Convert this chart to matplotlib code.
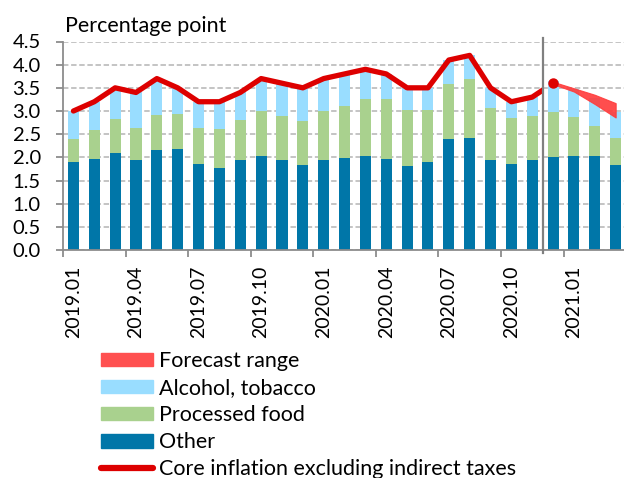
import matplotlib
matplotlib.use("Agg")
import matplotlib.pyplot as plt
from matplotlib.patches import Patch
from matplotlib.lines import Line2D
import numpy as np

plt.rcParams["font.family"] = ["Lato", "DejaVu Sans"]

# monthly categories 2019.01 - 2021.03
months = ["2019.01", "2019.02", "2019.03", "2019.04", "2019.05", "2019.06",
          "2019.07", "2019.08", "2019.09", "2019.10", "2019.11", "2019.12",
          "2020.01", "2020.02", "2020.03", "2020.04", "2020.05", "2020.06",
          "2020.07", "2020.08", "2020.09", "2020.10", "2020.11", "2020.12",
          "2021.01", "2021.02", "2021.03"]
tick_labels = ["2019.01", "2019.04", "2019.07", "2019.10", "2020.01",
               "2020.04", "2020.07", "2020.10", "2021.01"]

other = [1.89, 1.96, 2.10, 1.95, 2.15, 2.19, 1.86, 1.77, 1.94, 2.02, 1.94, 1.84,
         1.95, 1.98, 2.02, 1.97, 1.82, 1.90, 2.40, 2.42, 1.95, 1.86, 1.95, 2.00,
         2.03, 2.03, 1.84]
processed_food = [0.51, 0.63, 0.72, 0.69, 0.77, 0.75, 0.78, 0.84, 0.87, 0.98, 0.96, 0.94,
                  1.05, 1.13, 1.24, 1.29, 1.21, 1.13, 1.19, 1.27, 1.12, 0.99, 0.95, 0.98,
                  0.85, 0.65, 0.58]
alcohol_tobacco = [0.60, 0.61, 0.68, 0.76, 0.78, 0.56, 0.56, 0.59, 0.59, 0.70, 0.70, 0.72,
                   0.70, 0.69, 0.64, 0.54, 0.47, 0.47, 0.51, 0.51, 0.43, 0.35, 0.40, 0.66,
                   0.60, 0.59, 0.56]
# core inflation excluding indirect taxes (actual up to 2020.12)
core = [3.0, 3.2, 3.5, 3.4, 3.7, 3.5, 3.2, 3.2, 3.4, 3.7, 3.6, 3.5,
        3.7, 3.8, 3.9, 3.8, 3.5, 3.5, 4.1, 4.2, 3.5, 3.2, 3.3, 3.6]
# forecast range 2020.12 - 2021.03
fc_months = ["2020.12", "2021.01", "2021.02", "2021.03"]
fc_upper = [3.63, 3.49, 3.35, 3.17]
fc_lower = [3.58, 3.42, 3.15, 2.86]

c_other = "#0076A8"
c_food = "#A9D18E"
c_alc = "#99DDFF"
c_line = "#DD0000"
c_fc = "#FF3B3B"
c_axis = "#8C8C8C"

x = np.arange(len(months))
pos = {m: i for i, m in enumerate(months)}
other = np.array(other)
processed_food = np.array(processed_food)
alcohol_tobacco = np.array(alcohol_tobacco)

fig = plt.figure(figsize=(6.24, 4.78), dpi=100)
ax = fig.add_axes([63/624, 1-250/478, 561/624, 208.5/478])

w = 0.53
ax.bar(x, other, w, color=c_other, zorder=2)
ax.bar(x, processed_food, w, bottom=other, color=c_food, zorder=2)
ax.bar(x, alcohol_tobacco, w, bottom=other + processed_food, color=c_alc, zorder=2)

split = pos["2020.12"] - 0.5
xc = np.arange(len(core))
ln, = ax.plot(xc, core, color=c_line, lw=3.8, solid_capstyle="round",
              solid_joinstyle="round", zorder=4)
ln.set_clip_path(plt.Rectangle((-1, -1), split + 1, 10, transform=ax.transData))
ax.plot(xc[-1], core[-1], "o", color=c_line, ms=6.5, zorder=5)

xf = [pos[m] for m in fc_months]
ax.fill_between(xf, fc_lower, fc_upper, color=c_fc, alpha=0.9, lw=0.8,
                edgecolor=c_fc, zorder=3)

ax.plot([split, split], [-0.07, 4.57], color="#808080", lw=1.6, clip_on=False, zorder=6)

ax.set_xlim(-0.5, 26.4)
ax.set_ylim(0, 4.5)
ax.set_yticks(np.arange(0, 4.51, 0.5))
ax.set_yticklabels([f"{v:.1f}" for v in np.arange(0, 4.51, 0.5)])
ax.yaxis.grid(True, color="#BFBFBF", lw=1.3, linestyle=(0, (3, 1.5)), zorder=0)
ax.set_axisbelow(True)

ax.set_xticks([pos[m] for m in tick_labels])
ax.set_xticklabels(tick_labels, rotation=90, va="top", ha="center")
ax.set_xticks(np.arange(-0.5, 24, 3), minor=True)
ax.tick_params(axis="x", which="major", length=0, pad=11, labelsize=14)
ax.tick_params(axis="x", which="minor", length=5, color=c_axis, width=1.3)
ax.tick_params(axis="y", length=5, color=c_axis, width=1.3, pad=11, labelsize=14.5)

for s in ["top", "right"]:
    ax.spines[s].set_visible(False)
for s in ["left", "bottom"]:
    ax.spines[s].set_color(c_axis)
    ax.spines[s].set_linewidth(1.3)

fig.text(65/624, 1-32/478, "Percentage point", fontsize=15.5, va="baseline")

handles = [Patch(color="#FF5050"), Patch(color=c_alc), Patch(color=c_food),
           Patch(color=c_other),
           Line2D([], [], color=c_line, lw=4.5, solid_capstyle="round")]
labels = ["Forecast range", "Alcohol, tobacco", "Processed food", "Other",
          "Core inflation excluding indirect taxes"]
fig.legend(handles, labels, loc="upper left", bbox_to_anchor=(101/624, 1-351/478),
           frameon=False, fontsize=15.5, handlelength=2.4, handleheight=0.6,
           handletextpad=0.3, labelspacing=0.33, borderpad=0, borderaxespad=0)

fig.savefig("out.png", dpi=100)
